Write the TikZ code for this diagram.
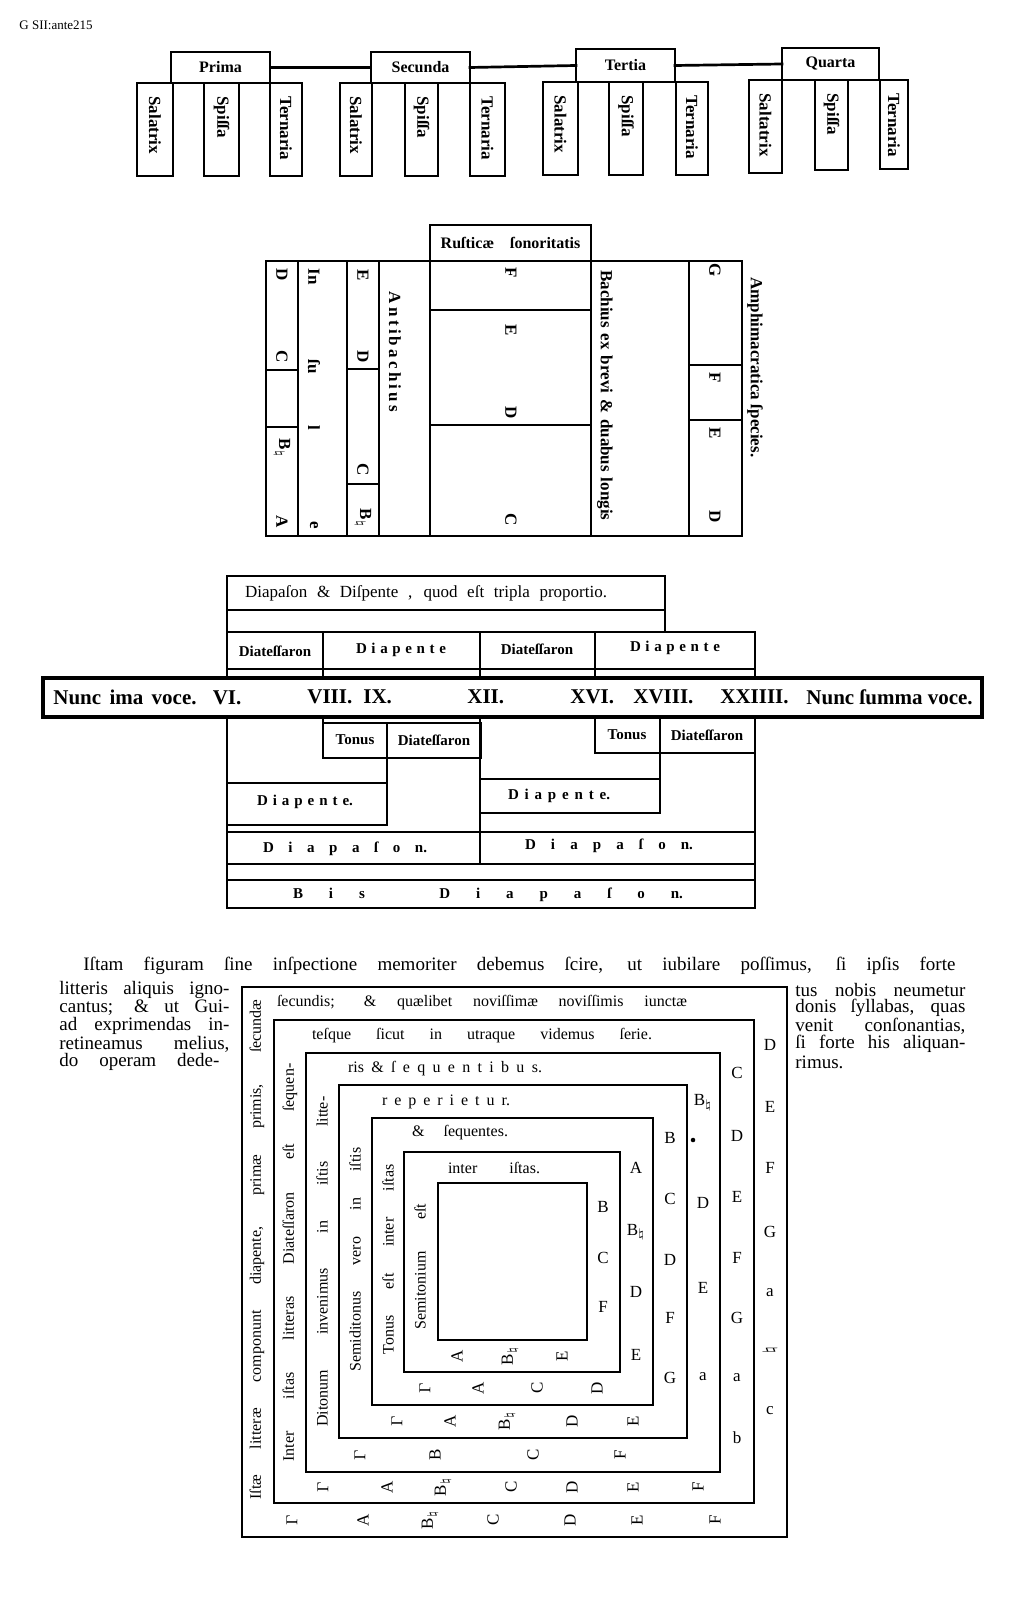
\documentclass[tikz,border=0pt]{standalone}
\usepackage{fontspec}
\setmainfont{Liberation Serif}
\newcommand{\cellnode}[6]{\node[cell, minimum width={(#4-#2)*0.5pt}, minimum height={(#5-#3)*0.5pt}] (#1) at ({(#2+#4)/2},{(#3+#5)/2}) {#6};}
\begin{document}
\begin{tikzpicture}[x=0.5pt,y=-0.5pt,
  frm/.style={line width=1.35pt, line cap=rect},
  cell/.style={draw, line width=1.35pt, inner sep=0pt, outer sep=0pt},
  mb/.style={inner sep=0pt, font=\fontsize{8.5}{9}\selectfont\bfseries, rotate=-90},
  db/.style={inner sep=0pt, font=\fontsize{7.5}{8}\selectfont\bfseries},
  nb/.style={inner sep=0pt, anchor=west, font=\fontsize{10.5}{11}\selectfont\bfseries},
  bt/.style={inner sep=0pt, anchor=west, font=\fontsize{9.5}{10}\selectfont},
  sq/.style={inner sep=0pt, font=\fontsize{8}{9}\selectfont},
  sl/.style={inner sep=0pt, font=\fontsize{8.5}{9}\selectfont},
]
\useasboundingbox (0,0) rectangle (1009,1620);
\fill[white] (0,0) rectangle (1009,1620);

\node[inner sep=0pt, anchor=west, font=\fontsize{6.5}{7}\selectfont] (ref) at (19,25) {G SII:ante215};

% ---------- top section ----------
\cellnode{sa1}{137}{83}{173}{176}{}
\cellnode{sp1}{204}{83}{239}{176}{}
\cellnode{te1}{270}{83}{302}{176}{}
\cellnode{prima}{171}{52}{270}{83}{\fontsize{8}{9}\selectfont\bfseries Prima}
\draw[frm] (sa1.north west) -- (te1.north east);
\cellnode{sa2}{340}{83}{372}{176}{}
\cellnode{sp2}{405}{83}{438}{176}{}
\cellnode{te2}{470}{83}{505}{176}{}
\cellnode{secunda}{371}{52}{470}{83}{\fontsize{8}{9}\selectfont\bfseries Secunda}
\draw[frm] (sa2.north west) -- (te2.north east);
\cellnode{sa3}{543}{82}{578}{175}{}
\cellnode{sp3}{609}{82}{643}{175}{}
\cellnode{te3}{676}{82}{708}{175}{}
\cellnode{tertia}{576}{49}{675}{82}{\fontsize{8}{9}\selectfont\bfseries Tertia}
\draw[frm] (sa3.north west) -- (te3.north east);
\cellnode{sa4}{749}{80}{782}{173}{}
\cellnode{sp4}{815}{80}{848}{170}{}
\cellnode{te4}{880}{80}{908}{169}{}
\cellnode{quarta}{782}{48}{879}{80}{\fontsize{8}{9}\selectfont\bfseries Quarta}
\draw[frm] (sa4.north west) -- (te4.north east);
\draw[frm] (prima.east) -- (secunda.west);
\draw[frm] (secunda.east) -- (tertia.west);
\draw[frm] (tertia.east) -- (quarta.west);

\node[mb, anchor=west] (sa1t) at (155,96) {Salatrix};
\node[mb, anchor=west] (sp1t) at (221.5,96) {Spiſſa};
\node[mb, anchor=west] (te1t) at (286,96) {Ternaria};
\node[mb, anchor=west] (sa2t) at (356,96) {Salatrix};
\node[mb, anchor=west] (sp2t) at (421.5,96) {Spiſſa};
\node[mb, anchor=west] (te2t) at (487.5,96) {Ternaria};
\node[mb, anchor=west] (sa3t) at (560.5,95) {Salatrix};
\node[mb, anchor=west] (sp3t) at (626,95) {Spiſſa};
\node[mb, anchor=west] (te3t) at (692,95) {Ternaria};
\node[mb, anchor=west] (sa4t) at (765.5,93) {Saltatrix};
\node[mb, anchor=west] (sp4t) at (831.5,93) {Spiſſa};
\node[mb, anchor=west] (te4t) at (894,93) {Ternaria};

% ---------- middle section ----------
\cellnode{rust}{430}{225}{591}{261}{\fontsize{8}{9}\selectfont\bfseries Ruſticæ\hspace{1em}ſonoritatis}
\draw[frm] (266,261) rectangle (742,536);
\foreach \x in {298,347,379,430,591,689} \draw[frm] (\x,261) -- (\x,536);
\draw[frm] (266,370) -- (298,370) (266,427) -- (298,427);
\draw[frm] (347,369) -- (379,369) (347,484) -- (379,484);
\draw[frm] (430,310) -- (591,310) (430,425) -- (591,425);
\draw[frm] (689,365) -- (742,365) (689,420) -- (742,420);
\foreach \t/\y [count=\i] in {D/275,C/357,B$_\natural$/448,A/522} \node[mb] (ma\i) at (282,\y) {\t};
\foreach \t/\y [count=\i] in {In/277,ſu/367,l/428,e/525} \node[mb] (mb\i) at (314,\y) {\t};
\foreach \t/\y [count=\i] in {E/275,D/357,C/470,B$_\natural$/518} \node[mb] (mc\i) at (363,\y) {\t};
\node[mb] (anti) at (395,352) {\makebox[60pt][s]{A n t i b a c h i u s}};
\foreach \t/\y [count=\i] in {F/273,E/330,D/413,C/520} \node[mb] (md\i) at (511,\y) {\t};
\node[mb, anchor=west] (bach) at (605,270) {\makebox[125pt][s]{Bachius ex brevi \& duabus longis}};
\foreach \t/\y [count=\i] in {G/270,F/378,E/433,D/517} \node[mb] (me\i) at (715,\y) {\t};
\node[mb, anchor=west] (amph) at (755,277) {\makebox[90pt][s]{Amphimacratica ſpecies.}};

% ---------- third section ----------
\cellnode{dd}{227}{576}{665}{610}{}
\node[sq, font=\fontsize{8.5}{9}\selectfont] (ddt) at (426,593) {\makebox[181pt][s]{Diapaſon \& Diſpente , quod eſt tripla proportio.}};
\draw[frm] (227,610) -- (227,908);
\draw[frm] (665,610) -- (665,632);
\draw[frm] (227,632) -- (755,632) -- (755,908);
\draw[frm] (227,669) -- (755,669);
\draw[frm] (323,632) -- (323,723);
\draw[frm] (480,632) -- (480,864);
\draw[frm] (595,632) -- (595,712);
\draw[frm] (323,723) rectangle (481,758);
\draw[frm] (387,723) -- (387,825);
\draw[frm] (227,783) -- (387,783) (227,825) -- (387,825);
\draw[frm] (595,712) rectangle (755,753);
\draw[frm] (660,712) -- (660,813);
\draw[frm] (480,779) -- (660,779) (480,813) -- (660,813);
\draw[frm] (227,832) -- (755,832) (227,864) -- (755,864);
\draw[frm] (227,880) -- (755,880) (227,908) -- (755,908);
\node[db] (r1a) at (275,651) {Diateſſaron};
\node[db] (r1b) at (401,650) {\makebox[45pt][s]{D i a p e n t e}};
\node[db] (r1c) at (537,649) {Diateſſaron};
\node[db] (r1d) at (675,648) {\makebox[45pt][s]{D i a p e n t e}};
\node[db] (r2a) at (355,740) {Tonus};
\node[db] (r2b) at (434,740) {Diateſſaron};
\node[db] (r2c) at (627,735) {Tonus};
\node[db] (r2d) at (707,735) {Diateſſaron};
\node[db] (r3a) at (305,802) {\makebox[48pt][s]{D i a p e n t e.}};
\node[db] (r3b) at (559,796) {\makebox[51pt][s]{D i a p e n t e.}};
\node[db] (r4a) at (345,849) {\makebox[82pt][s]{D i a p a ſ o n.}};
\node[db] (r4b) at (609,846) {\makebox[84pt][s]{D i a p a ſ o n.}};
\node[db] (r5) at (488,895) {\makebox[195pt][s]{B i s \hspace{1.5em} D i a p a ſ o n.}};
\node[draw, fill=white, line width=1.6pt, inner sep=0pt, outer sep=0pt, minimum width={(982-43)*0.5pt}, minimum height={(717-678)*0.5pt}] (nunc) at ({(43+982)/2},{(678+717)/2}) {};
\node[nb] (n1) at (53,697) {\makebox[94pt][s]{Nunc ima voce. VI.}};
\node[nb] (n2) at (307,697) {VIII.};
\node[nb] (n3) at (363,697) {IX.};
\node[nb] (n4) at (467,697) {XII.};
\node[nb] (n5) at (570,697) {XVI.};
\node[nb] (n6) at (633,697) {XVIII.};
\node[nb] (n7) at (720,697) {XXIIII.};
\node[nb] (n8) at (806,697) {Nunc ſumma voce.};

% ---------- text ----------
\node[bt] (p0) at (83,966) {\makebox[436pt][s]{Iſtam figuram ſine inſpectione memoriter debemus ſcire, ut iubilare poſſimus, ſi ipſis forte}};
\node[bt] (pl1) at (59,990) {\makebox[85pt][s]{litteris aliquis igno-}};
\node[bt] (pl2) at (59,1008) {\makebox[85pt][s]{cantus; \& ut Gui-}};
\node[bt] (pl3) at (59,1026) {\makebox[85pt][s]{ad exprimendas in-}};
\node[bt] (pl4) at (59,1044) {\makebox[85pt][s]{retineamus melius,}};
\node[bt] (pl5) at (59,1062) {\makebox[80pt][s]{do operam dede-}};
\node[bt] (pr1) at (795,990) {\makebox[85pt][s]{tus nobis neumetur}};
\node[bt] (pr2) at (795,1008) {\makebox[85pt][s]{donis ſyllabas, quas}};
\node[bt] (pr3) at (795,1026) {\makebox[85pt][s]{venit conſonantias,}};
\node[bt] (pr4) at (795,1044) {\makebox[85pt][s]{ſi forte his aliquan-}};
\node[bt] (pr5) at (795,1062) {rimus.};

% ---------- square ----------
\foreach \a/\b/\c/\d in {242/987/787/1537, 274/1020/754/1503, 306/1053/720/1472, 339/1085/687/1438, 372/1118/653/1405, 404/1152/620/1372, 438/1183/587/1340}
  \draw[frm] (\a,\b) rectangle (\c,\d);
\node[sq] (t1) at (482,1003) {\makebox[205pt][s]{ſecundis; \& quælibet noviſſimæ noviſſimis iunctæ}};
\node[sq] (t2) at (482,1036) {\makebox[170pt][s]{teſque ſicut in utraque videmus ſerie.}};
\node[sq] (t3) at (445,1069) {\makebox[97pt][s]{ris \& ſ e q u e n t i b u s.}};
\node[sq] (t4) at (446,1102) {\makebox[64pt][s]{r e p e r i e t u r.}};
\node[sq] (t5) at (460,1133) {\makebox[48pt][s]{\& ſequentes.}};
\node[sq] (t6) at (494,1168) {\makebox[46pt][s]{inter iſtas.}};
\node[sq, rotate=90, anchor=west] (l1) at (257,1500) {\makebox[250pt][s]{Iſtæ litteræ componunt diapente, primæ primis, ſecundæ}};
\node[sq, rotate=90, anchor=west] (l2) at (290,1462) {\makebox[199pt][s]{Inter iſtas litteras Diateſſaron eſt ſequen-}};
\node[sq, rotate=90, anchor=west] (l3) at (322,1427) {\makebox[165pt][s]{Ditonum invenimus in iſtis litte-}};
\node[sq, rotate=90, anchor=west] (l4) at (355,1372) {\makebox[112pt][s]{Semiditonus vero in iſtis}};
\node[sq, rotate=90, anchor=west] (l5) at (388,1355) {\makebox[95pt][s]{Tonus eſt inter iſtas}};
\node[sq, rotate=90, anchor=west] (l6) at (420,1330) {\makebox[63pt][s]{Semitonium eſt}};

\foreach \t/\y [count=\i] in {B/1207,C/1258,F/1307} \node[sl] (ra\i) at (603,\y) {\t};
\foreach \t/\y [count=\i] in {A/1168,B$_\natural$/1232,D/1292,E/1355} \node[sl] (rb\i) at (636,\y) {\t};
\foreach \t/\y [count=\i] in {B/1138,C/1199,D/1260,F/1318,G/1378} \node[sl] (rc\i) at (670,\y) {\t};
\foreach \t/\y [count=\i] in {B$_\natural$/1103,D/1203,E/1288,a/1377} \node[sl] (rd\i) at (703,\y) {\t};
\node[circle, fill, inner sep=0.8pt] (dot) at (693,1140) {};
\foreach \t/\y [count=\i] in {C/1073,D/1136,E/1197,F/1258,G/1318,a/1378,b/1438} \node[sl] (re\i) at (737,\y) {\t};
\foreach \t/\y [count=\i] in {D/1045,E/1107,F/1168,G/1232,a/1293,c/1411} \node[sl] (rf\i) at (770,\y) {\t};
\node[sl, rotate=90] (rfn) at (770,1350) {$\natural$};

\foreach \t/\x [count=\i] in {$\Gamma$/292,A/363,B$_\natural$/430,C/493,D/570,E/637,F/715} \node[sl, rotate=90] (ba\i) at (\x,1520) {\t};
\foreach \t/\x [count=\i] in {$\Gamma$/323,A/387,B$_\natural$/443,C/511,D/572,E/633,F/698} \node[sl, rotate=90] (bb\i) at (\x,1487) {\t};
\foreach \t/\x [count=\i] in {$\Gamma$/360,B/435,C/533,F/620} \node[sl, rotate=90] (bc\i) at (\x,1455) {\t};
\foreach \t/\x [count=\i] in {$\Gamma$/397,A/450,B$_\natural$/507,D/572,E/633} \node[sl, rotate=90] (bd\i) at (\x,1421) {\t};
\foreach \t/\x [count=\i] in {$\Gamma$/425,A/478,C/537,D/597} \node[sl, rotate=90] (be\i) at (\x,1388) {\t};
\foreach \t/\x [count=\i] in {A/457,B$_\natural$/510,E/562} \node[sl, rotate=90] (bf\i) at (\x,1356) {\t};
\end{tikzpicture}
\end{document}
